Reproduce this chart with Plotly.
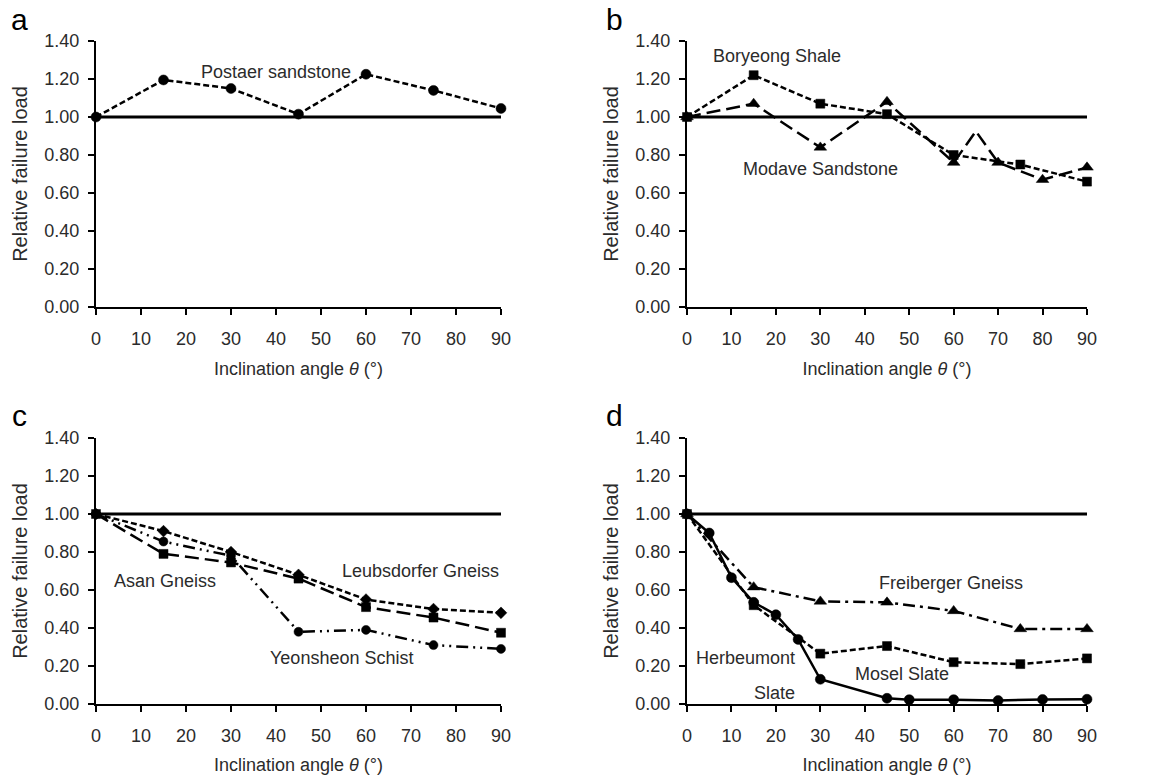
import plotly.graph_objects as go
from plotly.subplots import make_subplots

# ---------------- data ----------------
ref_theta = [0, 90]
ref_level = [1.0, 1.0]

a_theta = [0, 15, 30, 45, 60, 75, 90]
postaer = [1.00, 1.195, 1.15, 1.015, 1.225, 1.14, 1.045]

b_theta_boryeong = [0, 15, 30, 45, 60, 75, 90]
boryeong = [1.00, 1.22, 1.07, 1.015, 0.80, 0.75, 0.66]
b_theta_modave = [0, 15, 30, 45, 60, 65, 70, 80, 90]
modave = [1.00, 1.07, 0.84, 1.08, 0.76, 0.925, 0.76, 0.67, 0.735]

c_theta = [0, 15, 30, 45, 60, 75, 90]
leubsdorfer = [1.00, 0.91, 0.80, 0.68, 0.55, 0.50, 0.48]
asan = [1.00, 0.79, 0.745, 0.66, 0.51, 0.455, 0.375]
yeonsheon = [1.00, 0.855, 0.78, 0.38, 0.39, 0.31, 0.29]

d_theta_herb = [0, 5, 10, 15, 20, 25, 30, 45, 50, 60, 70, 80, 90]
herbeumont = [1.00, 0.90, 0.665, 0.535, 0.47, 0.34, 0.13, 0.03, 0.023, 0.023, 0.018, 0.024, 0.025]
d_theta = [0, 15, 30, 45, 60, 75, 90]
mosel = [1.00, 0.52, 0.265, 0.305, 0.22, 0.21, 0.24]
freiberger = [1.00, 0.615, 0.54, 0.535, 0.49, 0.395, 0.395]

x_ticks = [0, 10, 20, 30, 40, 50, 60, 70, 80, 90]
y_ticks = [0.0, 0.2, 0.4, 0.6, 0.8, 1.0, 1.2, 1.4]

panel_letters = ["a", "b", "c", "d"]
x_title = "Inclination angle <i>θ</i> (°)"
y_title = "Relative failure load"

# ---------------- styles ----------------
FONT = "Liberation Sans, Arial, sans-serif"
TXT = "#2b2b2b"
SHORT = "6px,3px"
LONG = "14px,6px"
DASHDOT = "12px,5px,3px,5px"
DASHDOTDOT = "12px,5px,2px,5px,2px,5px"

fig = make_subplots(rows=2, cols=2)

def add_ref(r, c):
    fig.add_trace(go.Scatter(x=ref_theta, y=ref_level, mode="lines",
                             line=dict(color="black", width=3),
                             showlegend=False, hoverinfo="skip", cliponaxis=False),
                  row=r, col=c)

def add_series(x, y, r, c, symbol, size, dash, msize_list=None, width=2.5):
    fig.add_trace(go.Scatter(x=x, y=y, mode="lines+markers",
                             line=dict(color="black", width=width, dash=dash),
                             marker=dict(symbol=symbol, color="black", opacity=1,
                                         size=msize_list if msize_list else size,
                                         line=dict(color="black", width=0.5)),
                             showlegend=False, cliponaxis=False),
                  row=r, col=c)

# panel a
add_ref(1, 1)
add_series(a_theta, postaer, 1, 1, "circle", 10, SHORT)
# panel b
add_ref(1, 2)
add_series(b_theta_modave, modave, 1, 2, "triangle-up", 11, LONG,
           msize_list=[11, 11, 11, 11, 11, 0, 11, 11, 11])
add_series(b_theta_boryeong, boryeong, 1, 2, "square", 9, SHORT)
# panel c
add_ref(2, 1)
add_series(c_theta, yeonsheon, 2, 1, "circle", 9, DASHDOTDOT)
add_series(c_theta, asan, 2, 1, "square", 9, LONG)
add_series(c_theta, leubsdorfer, 2, 1, "diamond", 9, SHORT)
# panel d
add_ref(2, 2)
add_series(d_theta, freiberger, 2, 2, "triangle-up", 11, DASHDOT)
add_series(d_theta, mosel, 2, 2, "square", 9, SHORT)
add_series(d_theta_herb, herbeumont, 2, 2, "circle", 10, "solid")

W, H = 1173, 775
xdom_left = [96 / W, 501 / W]
xdom_right = [687 / W, 1087 / W]
ydom_top = [1 - 307 / H, 1 - 41 / H]
ydom_bot = [1 - 704 / H, 1 - 438 / H]

xaxis_common = dict(range=[0, 90], tickvals=x_ticks, showline=True, linecolor="black",
                    linewidth=2, ticks="outside", ticklen=6, tickwidth=2, tickcolor="black",
                    showgrid=False, zeroline=False, ticklabelstandoff=8,
                    tickfont=dict(family=FONT, size=18, color=TXT),
                    title=dict(text=x_title, font=dict(family=FONT, size=18, color=TXT),
                               standoff=15),
                    automargin=False)
yaxis_common = dict(range=[0, 1.4], tickvals=y_ticks, tickformat=".2f", showline=True,
                    linecolor="black", linewidth=2, ticks="outside", ticklen=6, tickwidth=2,
                    tickcolor="black", showgrid=False, zeroline=False, ticklabelstandoff=5,
                    tickfont=dict(family=FONT, size=18, color=TXT),
                    title=dict(text=y_title, font=dict(family=FONT, size=20, color=TXT),
                               standoff=11),
                    automargin=False)

fig.update_layout(
    width=W, height=H,
    margin=dict(l=0, r=0, t=0, b=0),
    paper_bgcolor="white", plot_bgcolor="white",
    showlegend=False,
    xaxis=dict(domain=xdom_left, **xaxis_common),
    xaxis2=dict(domain=xdom_right, **xaxis_common),
    xaxis3=dict(domain=xdom_left, **xaxis_common),
    xaxis4=dict(domain=xdom_right, **xaxis_common),
    yaxis=dict(domain=ydom_top, **yaxis_common),
    yaxis2=dict(domain=ydom_top, **yaxis_common),
    yaxis3=dict(domain=ydom_bot, **yaxis_common),
    yaxis4=dict(domain=ydom_bot, **yaxis_common),
)

def label(text, x, y, xref, yref):
    fig.add_annotation(text=text, x=x, y=y, xref=xref, yref=yref, showarrow=False,
                       xanchor="center", yanchor="middle",
                       font=dict(family=FONT, size=18, color=TXT))

label("Postaer sandstone", 40.1, 1.238, "x", "y")
label("Boryeong Shale", 20.2, 1.32, "x2", "y2")
label("Modave Sandstone", 30.0, 0.724, "x2", "y2")
label("Leubsdorfer Gneiss", 72.1, 0.70, "x3", "y3")
label("Asan Gneiss", 15.3, 0.649, "x3", "y3")
label("Yeonsheon Schist", 54.5, 0.24, "x3", "y3")
label("Freiberger Gneiss", 59.4, 0.635, "x4", "y4")
label("Mosel Slate", 48.4, 0.158, "x4", "y4")
label("Herbeumont", 13.2, 0.24, "x4", "y4")
label("Slate", 19.7, 0.056, "x4", "y4")

letter_pos = [(19, 19), (614, 19), (19, 415), (614, 415)]
for t, (px, py) in zip(panel_letters, letter_pos):
    fig.add_annotation(text=t, x=px / W, y=1 - py / H, xref="paper", yref="paper",
                       showarrow=False, xanchor="center", yanchor="middle",
                       font=dict(family=FONT, size=30, color="black"))

fig.write_html("out.html", config={"displayModeBar": False},
               post_script="document.body.style.margin='0';document.body.style.overflow='hidden';")
